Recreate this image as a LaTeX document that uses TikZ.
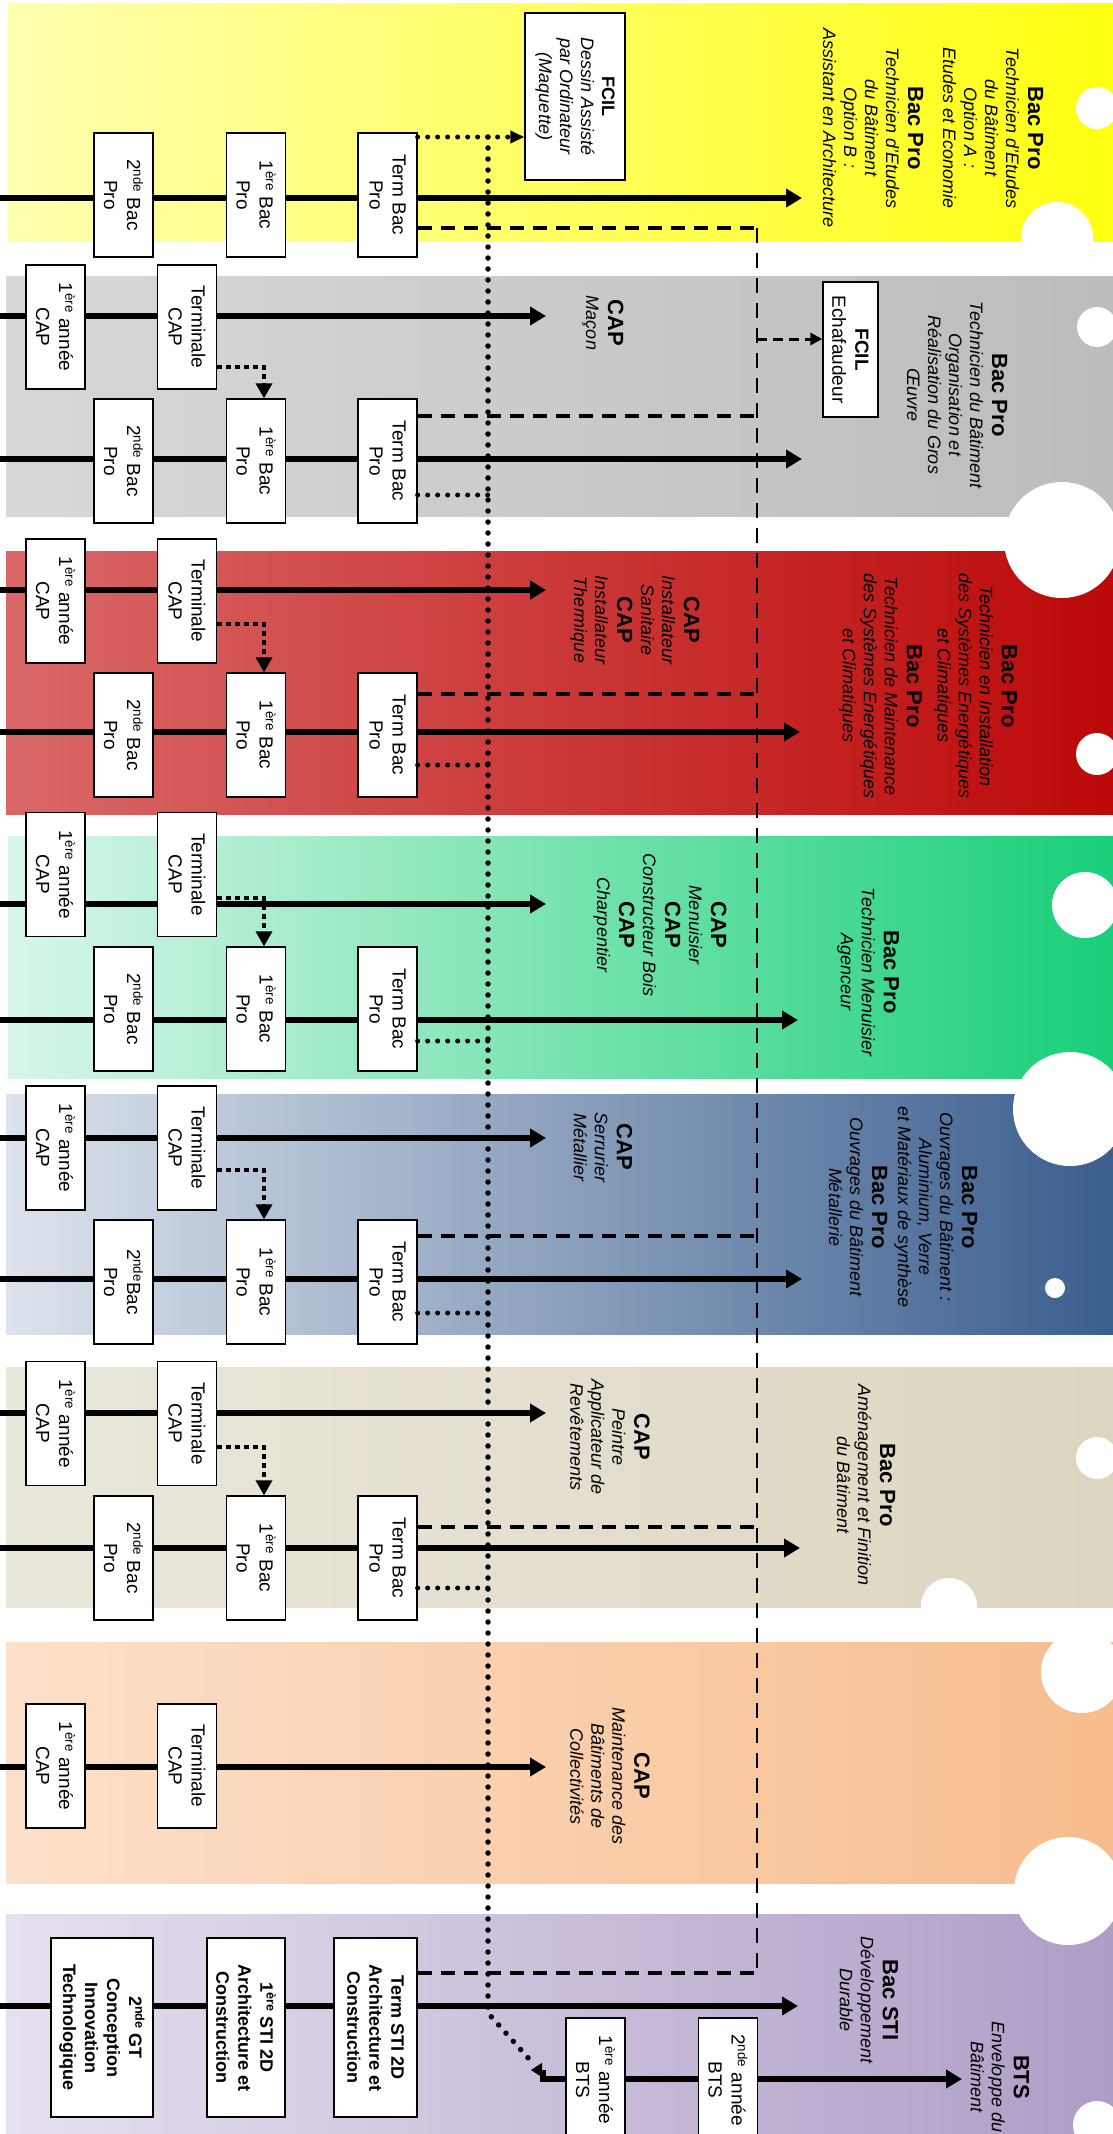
\documentclass[tikz,border=0pt]{standalone}
\usepackage{fontspec}
\setmainfont{Liberation Sans}
\usetikzlibrary{arrows.meta}
\definecolor{yL}{HTML}{FFFFB0}\definecolor{yM}{HTML}{FFFF78}\definecolor{yR}{HTML}{FFFF10}
\definecolor{gL}{HTML}{D8D8D8}\definecolor{gM}{HTML}{CCCCCC}\definecolor{gR}{HTML}{BCBCBC}
\definecolor{rL}{HTML}{DA6868}\definecolor{rM}{HTML}{D25252}\definecolor{rR}{HTML}{BC0808}
\definecolor{nL}{HTML}{D8F6E8}\definecolor{nM}{HTML}{ACEBC8}\definecolor{nR}{HTML}{18CF78}
\definecolor{bL}{HTML}{DDE3EC}\definecolor{bM}{HTML}{B5C1D3}\definecolor{bR}{HTML}{3A5E8E}
\definecolor{eL}{HTML}{EAE7DC}\definecolor{eM}{HTML}{E4E0CF}\definecolor{eR}{HTML}{DCD5BF}
\definecolor{oL}{HTML}{FCE0CA}\definecolor{oM}{HTML}{FAD2B1}\definecolor{oR}{HTML}{F7BC8D}
\definecolor{pL}{HTML}{E6E0EE}\definecolor{pM}{HTML}{CFC5DD}\definecolor{pR}{HTML}{AE9DC6}
\newcommand\Ttl[1]{{\bfseries\fontsize{22}{25}\selectfont #1}}
\newcommand\Dsc[1]{{\itshape #1}}
\tikzset{
 bx/.style={draw=black, line width=1.3pt, fill=white, rotate=-90, align=center, inner sep=0pt,
   minimum width=124pt, minimum height=59pt, font=\fontsize{19}{23}\selectfont},
 stibox/.style={bx, minimum width=179pt, font=\bfseries\fontsize{18}{22}\selectfont},
 ttl/.style={rotate=-90, align=center, inner sep=0pt, font=\fontsize{18}{21}\selectfont},
 mainln/.style={line width=5.5pt, -{Triangle[length=16pt,width=18pt]}},
 dashh/.style={line width=4.5pt, dash pattern=on 14pt off 9pt},
 dashv/.style={line width=2.5pt, dash pattern=on 15pt off 10pt},
 dotv/.style={line width=5.5pt, line cap=round, dash pattern=on 0pt off 11pt},
 dots/.style={line width=5pt, line cap=round, dash pattern=on 0pt off 10pt},
 dd/.style={line width=3.5pt, dash pattern=on 5pt off 4pt, -{Triangle[length=15pt,width=16pt]}},
}
\begin{document}
\begin{tikzpicture}[x=1pt,y=-1pt]
\fill[white] (0,0) rectangle (1113,2134);
\useasboundingbox (0,0) rectangle (1113,2134);
% bands
\shade[left color=yL, middle color=yM, right color=yR] (8,3) rectangle (1113,241);
\shade[left color=gL, middle color=gM, right color=gR] (6,276) rectangle (1113,516);
\shade[left color=rL, middle color=rM, right color=rR] (6,551) rectangle (1113,814);
\shade[left color=nL, middle color=nM, right color=nR] (8,836) rectangle (1113,1078);
\shade[left color=bL, middle color=bM, right color=bR] (6,1094) rectangle (1113,1334);
\shade[left color=eL, middle color=eM, right color=eR] (6,1367) rectangle (1113,1607);
\shade[left color=oL, middle color=oM, right color=oR] (6,1642) rectangle (1113,1883);
\shade[left color=pL, middle color=pM, right color=pR] (6,1914) rectangle (1113,2134);
% notches
\fill[white] (1097,108) circle (21pt);
\fill[white] (1057,238) circle (36pt);
\fill[white] (1097,327) circle (20pt);
\fill[white] (1062,540) circle (58pt);
\fill[white] (1097,754) circle (21pt);
\fill[white] (1085,905) circle (33pt);
\fill[white] (1070,1109) circle (57pt);
\fill[white] (1055,1288) circle (10pt);
\fill[white] (1097,1458) circle (21pt);
\fill[white] (949,1606) circle (28pt);
\fill[white] (1082,1672) circle (41pt);
\fill[white] (1068,1891) circle (54pt);
\fill[white] (1097,2125) circle (24pt);
% main lines
\coordinate (b1s) at (0,198); \coordinate (b1t) at (802,198);
\coordinate (c2s) at (0,316); \coordinate (c2t) at (546,316);
\coordinate (b2s) at (0,459); \coordinate (b2t) at (802,459);
\coordinate (c3s) at (0,590); \coordinate (c3t) at (546,590);
\coordinate (b3s) at (0,732); \coordinate (b3t) at (800,732);
\coordinate (c4s) at (0,904); \coordinate (c4t) at (546,904);
\coordinate (b4s) at (0,1020); \coordinate (b4t) at (798,1020);
\coordinate (c5s) at (0,1138); \coordinate (c5t) at (546,1138);
\coordinate (b5s) at (0,1279); \coordinate (b5t) at (802,1279);
\coordinate (c6s) at (0,1413); \coordinate (c6t) at (546,1413);
\coordinate (b6s) at (0,1548); \coordinate (b6t) at (800,1548);
\coordinate (c7s) at (0,1767); \coordinate (c7t) at (546,1767);
\coordinate (s8s) at (0,2006); \coordinate (s8t) at (798,2006);
\coordinate (bts0) at (543,2071); \coordinate (btst) at (962,2079);
\foreach \a in {b1,c2,b2,c3,b3,c4,b4,c5,b5,c6,b6,c7,s8} {\draw[mainln] (\a s) -- (\a t);}
\draw[mainln] (bts0) |- (btst);
% boxes band 1
\node[bx] (b1a) at (123.5,195) {2\textsuperscript{nde} Bac\\Pro};
\node[bx] (b1b) at (256,195) {1\textsuperscript{ère} Bac\\Pro};
\node[bx] (b1c) at (387.5,195) {Term Bac\\Pro};
\node[bx, minimum width=167pt, minimum height=100pt, font=\fontsize{18}{21}\selectfont] (f1) at (575,96.5)
  {\textbf{FCIL}\\\Dsc{Dessin Assisté}\\\Dsc{par Ordinateur}\\\Dsc{(Maquette)}};
% band 2
\node[bx] (c2a) at (55.5,327) {1\textsuperscript{ère} année\\CAP};
\node[bx] (c2b) at (187,327) {Terminale\\CAP};
\node[bx] (b2a) at (123.5,461) {2\textsuperscript{nde} Bac\\Pro};
\node[bx] (b2b) at (256,461) {1\textsuperscript{ère} Bac\\Pro};
\node[bx] (b2c) at (387.5,461) {Term Bac\\Pro};
\node[bx, minimum width=135pt, minimum height=55pt] (f2) at (850.5,349.5) {\textbf{FCIL}\\Echafaudeur};
% band 3
\node[bx] (c3a) at (55.5,601) {1\textsuperscript{ère} année\\CAP};
\node[bx] (c3b) at (187,601) {Terminale\\CAP};
\node[bx] (b3a) at (123.5,735) {2\textsuperscript{nde} Bac\\Pro};
\node[bx] (b3b) at (256,735) {1\textsuperscript{ère} Bac\\Pro};
\node[bx] (b3c) at (387.5,735) {Term Bac\\Pro};
% band 4
\node[bx] (c4a) at (55.5,874.5) {1\textsuperscript{ère} année\\CAP};
\node[bx] (c4b) at (187,874.5) {Terminale\\CAP};
\node[bx] (b4a) at (123.5,1009) {2\textsuperscript{nde} Bac\\Pro};
\node[bx] (b4b) at (256,1009) {1\textsuperscript{ère} Bac\\Pro};
\node[bx] (b4c) at (387.5,1009) {Term Bac\\Pro};
% band 5
\node[bx] (c5a) at (55.5,1148) {1\textsuperscript{ère} année\\CAP};
\node[bx] (c5b) at (187,1148) {Terminale\\CAP};
\node[bx] (b5a) at (123.5,1282) {2\textsuperscript{nde}Bac\\Pro};
\node[bx] (b5b) at (256,1282) {1\textsuperscript{ère} Bac\\Pro};
\node[bx] (b5c) at (387.5,1282) {Term Bac\\Pro};
% band 6
\node[bx] (c6a) at (55.5,1423.5) {1\textsuperscript{ère} année\\CAP};
\node[bx] (c6b) at (187,1423.5) {Terminale\\CAP};
\node[bx] (b6a) at (123.5,1558) {2\textsuperscript{nde} Bac\\Pro};
\node[bx] (b6b) at (256,1558) {1\textsuperscript{ère} Bac\\Pro};
\node[bx] (b6c) at (387.5,1558) {Term Bac\\Pro};
% band 7
\node[bx] (c7a) at (55.5,1766) {1\textsuperscript{ère} année\\CAP};
\node[bx] (c7b) at (187,1766) {Terminale\\CAP};
% band 8
\node[stibox, minimum height=102pt] (g1) at (102,2027.5) {2\textsuperscript{nde} GT\\Conception\\Innovation\\Technologique};
\node[stibox, minimum height=78pt] (g2) at (246,2027.5) {1\textsuperscript{ère} STI 2D\\Architecture et\\Construction};
\node[stibox, minimum height=83pt] (g3) at (375.5,2027.5) {Term STI 2D\\Architecture et\\Construction};
\node[bx] (bt1) at (595.5,2080) {1\textsuperscript{ère} année\\BTS};
\node[bx] (bt2) at (728,2080) {2\textsuperscript{nde} année\\BTS};
% dashed connectors
\coordinate (dh1) at (757,228);
\coordinate (dh2) at (757,416);
\coordinate (dh3) at (757,694);
\coordinate (dh5) at (757,1236);
\coordinate (dh6) at (757,1527);
\coordinate (dh8) at (757,1973);
\draw[dashh] (b1c.north |- dh1) -- (dh1);
\draw[dashh] (b2c.north |- dh2) -- (dh2);
\draw[dashh] (b3c.north |- dh3) -- (dh3);
\draw[dashh] (b5c.north |- dh5) -- (dh5);
\draw[dashh] (b6c.north |- dh6) -- (dh6);
\draw[dashh] (g3.north |- dh8) -- (dh8);
\draw[dashv] (dh1) -- (dh8);
\coordinate (fa2) at (757,339);
\draw[line width=3pt, dash pattern=on 10pt off 6pt, -{Triangle[length=12pt,width=12pt]}] (fa2) -- (f2.south |- fa2);
% dotted connectors
\coordinate (dv0) at (488,137);
\coordinate (dv1) at (488,2013);
\coordinate (dv2) at (530,2060);
\draw[dotv] (dv0) -- (dv1) -- (dv2);
\coordinate (ah0) at (546,2070); \coordinate (ah1) at (531,2070);
\draw[line width=1pt, -{Triangle[length=11pt,width=14pt]}] (ah0) -- (ah1);
\draw[dots, -{Triangle[length=14pt,width=12pt]}] (b1c.north |- dv0) -- (f1.south |- dv0);
\coordinate (dv2a) at (488,495);
\coordinate (dv3a) at (488,765);
\coordinate (dv4a) at (488,1041);
\coordinate (dv5a) at (488,1313);
\coordinate (dv6a) at (488,1588);
\draw[dots] (b2c.north |- dv2a) -- (dv2a);
\draw[dots] (b3c.north |- dv3a) -- (dv3a);
\draw[dots] (b4c.north |- dv4a) -- (dv4a);
\draw[dots] (b5c.north |- dv5a) -- (dv5a);
\draw[dots] (b6c.north |- dv6a) -- (dv6a);
% dot-dash arrows CAP -> 1ere Bac Pro
\coordinate (k2) at (264,367);
\coordinate (k3) at (264,624);
\coordinate (k4) at (264,898);
\coordinate (k5) at (264,1170);
\coordinate (k6) at (264,1447);
\draw[dd] (c2b.north |- k2) -- (k2) -- (k2 |- b2b.west);
\draw[dd] (c3b.north |- k3) -- (k3) -- (k3 |- b3b.west);
\draw[dd] (c4b.north |- k4) -- (k4) -- (k4 |- b4b.west);
\draw[dd] (c5b.north |- k5) -- (k5) -- (k5 |- b5b.west);
\draw[dd] (c6b.north |- k6) -- (k6) -- (k6 |- b6b.west);
% texts
\node[ttl] (t1) at (933,128) {\Ttl{Bac Pro}\\[1pt]\Dsc{Technicien d'Etudes}\\\Dsc{du Bâtiment}\\\Dsc{Option A :}\\\Dsc{Etudes et Economie}\\[14pt]\Ttl{Bac Pro}\\[1pt]\Dsc{Technicien d'Etudes}\\\Dsc{du Bâtiment}\\\Dsc{Option B :}\\\Dsc{Assistant en Architecture}};
\node[ttl] (t2c) at (603,323) {\Ttl{CAP}\\[1pt]\Dsc{Maçon}};
\node[ttl] (t2b) at (957,395) {\Ttl{Bac Pro}\\[1pt]\Dsc{Technicien du Bâtiment}\\\Dsc{Organisation et}\\\Dsc{Réalisation du Gros}\\\Dsc{Œuvre}};
\node[ttl] (t3c) at (635,620) {\Ttl{CAP}\\[1pt]\Dsc{Installateur}\\\Dsc{Sanitaire}\\[3pt]\Ttl{CAP}\\[1pt]\Dsc{Installateur}\\\Dsc{Thermique}};
\node[ttl] (t3b) at (928,686) {\Ttl{Bac Pro}\\[1pt]\Dsc{Technicien en Installation}\\\Dsc{des Systèmes Energétiques}\\\Dsc{et Climatiques}\\[10pt]\Ttl{Bac Pro}\\[1pt]\Dsc{Technicien de Maintenance}\\\Dsc{des Systèmes Energétiques}\\\Dsc{et Climatiques}};
\node[ttl] (t4c) at (660,925) {\Ttl{CAP}\\[1pt]\Dsc{Menuisier}\\[3pt]\Ttl{CAP}\\[1pt]\Dsc{Constructeur Bois}\\[3pt]\Ttl{CAP}\\[1pt]\Dsc{Charpentier}};
\node[ttl] (t4b) at (868,972) {\Ttl{Bac Pro}\\[1pt]\Dsc{Technicien Menuisier}\\\Dsc{Agenceur}};
\node[ttl] (t5c) at (603,1147) {\Ttl{CAP}\\[1pt]\Dsc{Serrurier}\\\Dsc{Métallier}};
\node[ttl] (t5b) at (903,1207) {\Ttl{Bac Pro}\\[1pt]\Dsc{Ouvrages du Bâtiment :}\\\Dsc{Aluminium, Verre}\\\Dsc{et Matériaux de synthèse}\\[5pt]\Ttl{Bac Pro}\\[1pt]\Dsc{Ouvrages du Bâtiment}\\\Dsc{Métallerie}};
\node[ttl] (t6c) at (610,1437) {\Ttl{CAP}\\[1pt]\Dsc{Peintre}\\\Dsc{Applicateur de}\\\Dsc{Revêtements}};
\node[ttl] (t6b) at (866,1485) {\Ttl{Bac Pro}\\[1pt]\Dsc{Aménagement et Finition}\\\Dsc{du Bâtiment}};
\node[ttl] (t7c) at (610,1776) {\Ttl{CAP}\\[1pt]\Dsc{Maintenance des}\\\Dsc{Bâtiments de}\\\Dsc{Collectivités}};
\node[ttl] (t8s) at (869,2000) {\Ttl{Bac STI}\\[1pt]\Dsc{Développement}\\\Dsc{Durable}};
\node[ttl] (t8b) at (1000,2077) {\Ttl{BTS}\\[1pt]\Dsc{Enveloppe du}\\\Dsc{Bâtiment}};
\end{tikzpicture}
\end{document}
